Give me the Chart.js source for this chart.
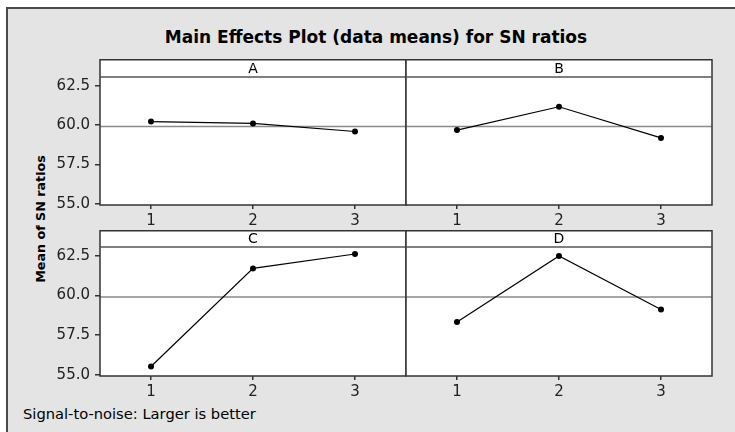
<!DOCTYPE html>
<html>
<head>
<meta charset="utf-8">
<script src="https://cdn.jsdelivr.net/npm/chart.js@4"></script>
<style>
  html, body { margin: 0; padding: 0; background: #fff; }
  body { width: 735px; height: 432px; position: relative; overflow: hidden; font-family: "DejaVu Sans", sans-serif; }
  #frame { position: absolute; left: 6px; top: 7px; width: 760px; height: 460px; background: #e4e4e4;
           border-left: 2px solid #4a4a4a; border-top: 2px solid #4a4a4a; }
  .txt { position: absolute; color: #000; white-space: nowrap; }
  #title { left: 0; width: 752px; top: 27px; text-align: center; font-weight: bold; font-size: 17px; }
  #ylab { left: 40px; top: 219px; font-weight: bold; font-size: 12.7px; transform: translate(-50%, -50%) rotate(-90deg); }
  #note { left: 23px; top: 405px; font-size: 14.7px; }
  canvas { position: absolute; }
</style>
</head>
<body>
<div id="frame"></div>
<div class="txt" id="title">Main Effects Plot (data means) for SN ratios</div>
<div class="txt" id="ylab">Mean of SN ratios</div>
<div class="txt" id="note">Signal-to-noise: Larger is better</div>

<script>
// data
const levels = [1, 2, 3];
const factorNames = ['A', 'B', 'C', 'D'];
const meansA = [60.22, 60.10, 59.59];
const meansB = [59.68, 61.16, 59.18];
const meansC = [55.52, 61.70, 62.61];
const meansD = [58.33, 62.48, 59.11];
const grandMean = 59.9;
const yTicks = [55.0, 57.5, 60.0, 62.5];

const allMeans = [meansA, meansB, meansC, meansD];

// panel boxes in page pixels
const panels = [
  { left: 100, right: 406, stripTop: 59, top: 77, bottom: 205, yLabels: true },
  { left: 406, right: 712, stripTop: 59, top: 77, bottom: 205, yLabels: false },
  { left: 100, right: 406, stripTop: 230, top: 247, bottom: 376, yLabels: true },
  { left: 406, right: 712, stripTop: 230, top: 247, bottom: 376, yLabels: false }
];

const AXIS_W = 70, AXIS_H = 30, PAD_R = 6;
const tickFont = { family: 'DejaVu Sans', size: 15 };

const panelBox = {
  id: 'panelBox',
  beforeDraw(chart) {
    const a = chart.chartArea, ctx = chart.ctx;
    ctx.save();
    ctx.fillStyle = '#fff';
    ctx.fillRect(a.left, a.top, a.right - a.left, a.bottom - a.top);
    ctx.restore();
  },
  afterDraw(chart, args, opts) {
    const a = chart.chartArea, ctx = chart.ctx;
    const stripH = chart.options.layout.padding.top;
    ctx.save();
    ctx.fillStyle = '#fff';
    ctx.fillRect(a.left, a.top - stripH, a.right - a.left, stripH);
    ctx.strokeStyle = '#333';
    ctx.lineWidth = 1.5;
    ctx.strokeRect(a.left, a.top - stripH + 0.75, a.right - a.left, a.bottom - a.top + stripH - 0.75);
    ctx.strokeStyle = '#555';
    ctx.beginPath();
    ctx.moveTo(a.left, a.top);
    ctx.lineTo(a.right, a.top);
    ctx.stroke();
    ctx.fillStyle = '#000';
    ctx.font = '14px "DejaVu Sans"';
    ctx.textAlign = 'center';
    ctx.textBaseline = 'middle';
    ctx.fillText(opts.label, (a.left + a.right) / 2, a.top - stripH / 2 + 1);
    ctx.restore();
  }
};

panels.forEach((p, i) => {
  const canvas = document.createElement('canvas');
  const w = (p.right - p.left) + AXIS_W + PAD_R;
  const h = (p.bottom - p.stripTop) + AXIS_H;
  canvas.style.left = (p.left - AXIS_W) + 'px';
  canvas.style.top = p.stripTop + 'px';
  canvas.style.width = w + 'px';
  canvas.style.height = h + 'px';
  canvas.width = w;
  canvas.height = h;
  document.body.appendChild(canvas);

  new Chart(canvas.getContext('2d'), {
    type: 'line',
    data: {
      datasets: [
        {
          data: levels.map((lv, k) => ({ x: lv, y: allMeans[i][k] })),
          borderColor: '#000',
          backgroundColor: '#000',
          borderWidth: 1.2,
          pointRadius: 3,
          pointBorderWidth: 0,
          tension: 0
        },
        {
          data: [{ x: 0.5, y: grandMean }, { x: 3.5, y: grandMean }],
          borderColor: '#8a8a8a',
          borderWidth: 1.5,
          pointRadius: 0
        }
      ]
    },
    options: {
      responsive: false,
      animation: false,
      events: [],
      layout: { padding: { top: p.top - p.stripTop, right: PAD_R, left: 0, bottom: 0 } },
      plugins: {
        legend: { display: false },
        tooltip: { enabled: false },
        panelBox: { label: factorNames[i] }
      },
      scales: {
        x: {
          type: 'linear',
          min: 0.5,
          max: 3.5,
          afterBuildTicks: s => { s.ticks = levels.map(v => ({ value: v })); },
          afterFit: s => { s.height = AXIS_H; },
          grid: { drawOnChartArea: false, drawTicks: true, tickLength: 4, color: '#333', lineWidth: 1.5 },
          border: { display: false },
          ticks: { font: tickFont, color: '#222', padding: 3, maxRotation: 0, callback: v => String(v) }
        },
        y: {
          type: 'linear',
          min: 54.92,
          max: 63.05,
          afterBuildTicks: s => { s.ticks = yTicks.map(v => ({ value: v })); },
          afterFit: s => { s.width = AXIS_W; },
          grid: { drawOnChartArea: false, drawTicks: p.yLabels, tickLength: 5, color: '#333', lineWidth: 1.5 },
          border: { display: false },
          ticks: { display: p.yLabels, font: tickFont, color: '#222', padding: 5, callback: v => Number(v).toFixed(1) }
        }
      }
    },
    plugins: [panelBox]
  });
});
</script>
</body>
</html>
